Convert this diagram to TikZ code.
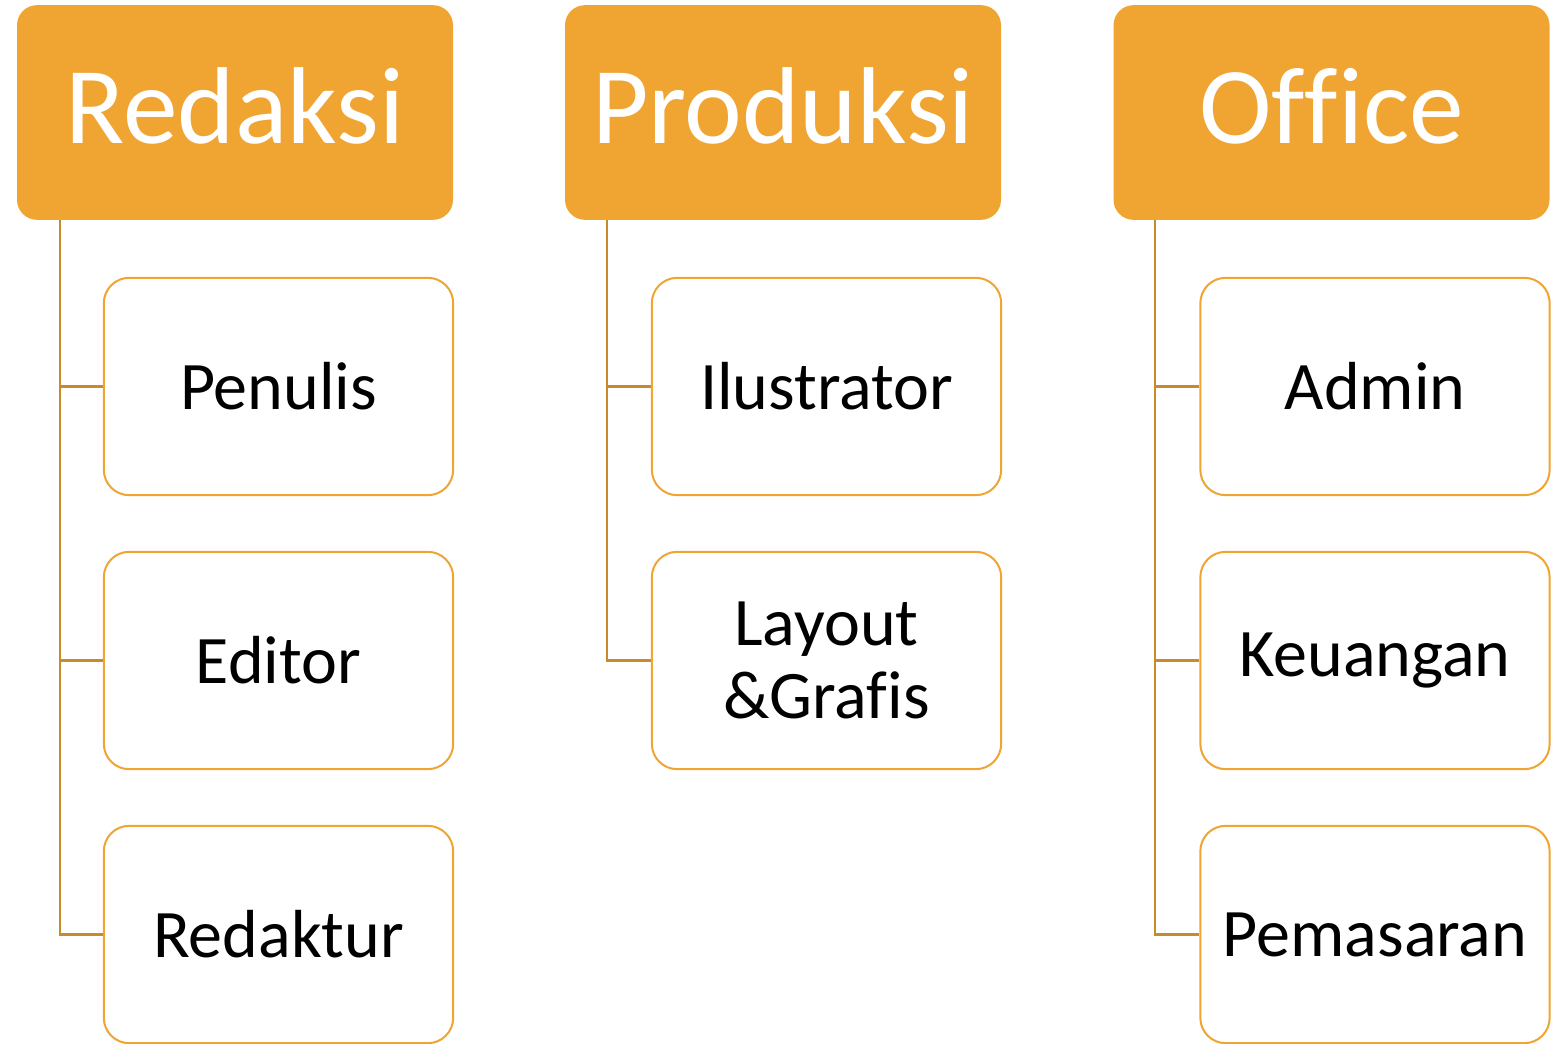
\documentclass[tikz,border=0pt]{standalone}
\usepackage{fontspec}
\setmainfont{Carlito}[Ligatures=NoCommon]
\usetikzlibrary{positioning, calc}

\definecolor{oranye}{HTML}{F0A431}
\definecolor{garis}{HTML}{C98A2B}

\begin{document}
\begin{tikzpicture}[x=0.75pt,y=-0.75pt]
		\useasboundingbox (0,0) rectangle (1556,1044);
		
		\tikzstyle{divisi}=[fill=oranye,rounded corners=15pt,minimum width=327pt,
		minimum height=161pt,text height=60pt,text depth=14pt,text=white,
		font=\fontsize{82}{90}\selectfont]
		\tikzstyle{bagian}=[draw=oranye,line width=1.5pt,fill=white,rounded corners=19pt,
		minimum width=262pt,minimum height=163pt,align=center,font=\fontsize{51}{55}\selectfont]
		\tikzstyle{cabang}=[draw=garis,line width=1.6pt]
		
		%% Kepala divisi
		\node [divisi] (redaksi)  at (235,112.5)  {Redaksi};
		\node [divisi] (produksi) at (783,112.5)  {Produksi};
		\node [divisi] (office)   at (1331.5,112.5) {Of\kern0pt f\kern0pt ice};
		
		%% Redaksi
		\node [bagian] (penulis)  at (278.5,386.5) {Penulis};
		\node [bagian] (editor)   at (278.5,660.5) {Editor};
		\node [bagian] (redaktur) at (278.5,934.5) {Redaktur};
		
		%% Produksi
		\node [bagian] (ilustrator) at (826.5,386.5) {Ilustrator};
		\node [bagian] (layout)     at (826.5,660.5) {Layout\\\&Graf\kern0pt is};
		
		%% Office
		\node [bagian] (admin)     at (1375,386.5) {Admin};
		\node [bagian] (keuangan)  at (1375,660.5) {Keuangan};
		\node [bagian] (pemasaran) at (1375,934.5) {Pemasaran};
		
		%% Garis cabang
		\coordinate (akar1) at ([xshift=32.25pt]redaksi.south west);
		\coordinate (akar2) at ([xshift=31.5pt]produksi.south west);
		\coordinate (akar3) at ([xshift=31.5pt]office.south west);
		
		\foreach \anak in {penulis,editor,redaktur}
		\draw [cabang] (akar1) |- (\anak.west);
		\foreach \anak in {ilustrator,layout}
		\draw [cabang] (akar2) |- (\anak.west);
		\foreach \anak in {admin,keuangan,pemasaran}
		\draw [cabang] (akar3) |- (\anak.west);
		
	\end{tikzpicture}
\end{document}
